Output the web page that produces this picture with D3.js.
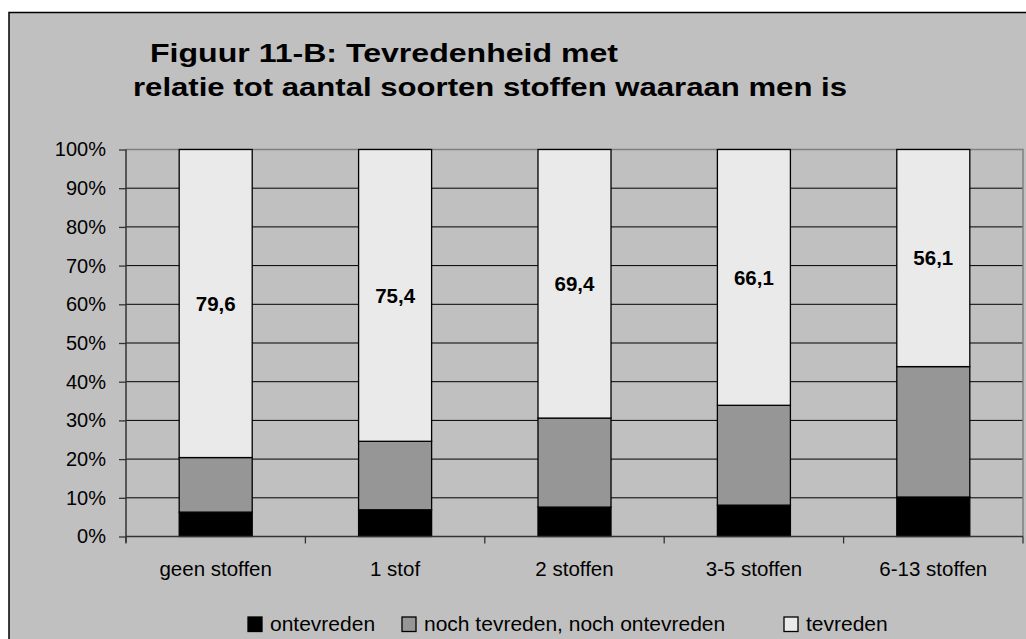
<!DOCTYPE html>
<html>
<head>
<meta charset="utf-8">
<script src="https://cdn.jsdelivr.net/npm/d3@7"></script>
<style>
  body { margin: 0; background: #fff; }
  text { font-family: Arial, "Liberation Sans", sans-serif; }
</style>
</head>
<body>
<script>
var categories = ['geen stoffen', '1 stof', '2 stoffen', '3-5 stoffen', '6-13 stoffen'];
var seriesNames = ['ontevreden', 'noch tevreden, noch ontevreden', 'tevreden'];
var ontevreden = [6.3, 6.9, 7.6, 8.1, 10.2];
var noch = [14.1, 17.7, 23.0, 25.8, 33.7];
var tevreden = [79.6, 75.4, 69.4, 66.1, 56.1];
var yTicks = [0, 10, 20, 30, 40, 50, 60, 70, 80, 90, 100];

var colors = ['#000000', '#969696', '#eaeaea'];

var W = 1026, H = 639;
var plot = { left: 126, right: 1023, top: 149.5, bottom: 536.5 };

var svg = d3.select('body').
append('svg').
attr('width', W).
attr('height', H);

// chart frame
svg.append('rect').
attr('x', 9).
attr('y', 12.5).
attr('width', W + 20).
attr('height', H + 20).
attr('fill', '#c0c0c0').
attr('stroke', '#000').
attr('stroke-width', 1.5);

// title
svg.append('text').
attr('x', 150).
attr('y', 62).
attr('font-size', 26).
attr('font-weight', 'bold').
attr('textLength', 468).
attr('lengthAdjust', 'spacingAndGlyphs').
text('Figuur 11-B: Tevredenheid met');

svg.append('text').
attr('x', 133).
attr('y', 96).
attr('font-size', 26).
attr('font-weight', 'bold').
attr('textLength', 714).
attr('lengthAdjust', 'spacingAndGlyphs').
text('relatie tot aantal soorten stoffen waaraan men is');

var x = d3.scaleBand().
domain(categories).
range([plot.left, plot.right]).
paddingInner(0.593).
paddingOuter(0.2965);

var y = d3.scaleLinear().
domain([0, 100]).
range([plot.bottom, plot.top]);

// gridlines
svg.selectAll('.grid').
data(yTicks.filter(function (d) {return d > 0 && d < 100;})).
enter().
append('line').
attr('x1', plot.left).
attr('x2', plot.right).
attr('y1', function (d) {return y(d);}).
attr('y2', function (d) {return y(d);}).
attr('stroke', '#000').
attr('stroke-width', 1);

// plot border top / right
svg.append('path').
attr('d', 'M' + plot.left + ',' + plot.top + 'H' + plot.right + 'V' + plot.bottom).
attr('fill', 'none').
attr('stroke', '#808080').
attr('stroke-width', 1.5);

// stacked data
var stackData = categories.map(function (c, i) {
  return { cat: c, ontevreden: ontevreden[i], noch: noch[i], tevreden: tevreden[i] };
});
var stack = d3.stack().keys(['ontevreden', 'noch', 'tevreden']);
var series = stack(stackData);

svg.selectAll('.serie').
data(series).
enter().
append('g').
attr('fill', function (d, i) {return colors[i];}).
selectAll('rect').
data(function (d) {return d;}).
enter().
append('rect').
attr('x', function (d) {return x(d.data.cat);}).
attr('width', x.bandwidth()).
attr('y', function (d) {return y(d[1]);}).
attr('height', function (d) {return y(d[0]) - y(d[1]);}).
attr('stroke', '#000').
attr('stroke-width', 1.3);

// data labels (tevreden)
svg.selectAll('.lbl').
data(series[2]).
enter().
append('text').
attr('x', function (d) {return x(d.data.cat) + x.bandwidth() / 2;}).
attr('y', function (d) {return y((d[0] + d[1]) / 2);}).
attr('dy', '0.36em').
attr('text-anchor', 'middle').
attr('font-size', 20.5).
attr('font-weight', 'bold').
text(function (d) {return String(d.data.tevreden).replace('.', ',');});

// y axis
var yAxis = d3.axisLeft(y).
tickValues(yTicks).
tickSize(7).
tickPadding(13).
tickFormat(function (d) {return d + '%';});

var gy = svg.append('g').
attr('transform', 'translate(' + plot.left + ',0)').
call(yAxis);
gy.select('.domain').attr('stroke', '#333').attr('stroke-width', 1.5).attr('d', 'M0,' + plot.top + 'V' + (plot.bottom + 6));
gy.selectAll('.tick line').attr('stroke', '#333').attr('stroke-width', 1.3);
gy.selectAll('.tick text').
attr('font-size', 20).
attr('fill', '#000').
style('font-family', 'Arial, "Liberation Sans", sans-serif');

// x axis
var gx = svg.append('g');
gx.append('line').
attr('x1', plot.left).
attr('x2', plot.right).
attr('y1', plot.bottom).
attr('y2', plot.bottom).
attr('stroke', '#333').
attr('stroke-width', 1.5);

var bounds = categories.map(function (c) {return x(c) - x.step() * x.paddingOuter();});
bounds.push(plot.right);
gx.selectAll('.xt').
data(bounds).
enter().
append('line').
attr('x1', function (d) {return d;}).
attr('x2', function (d) {return d;}).
attr('y1', plot.bottom).
attr('y2', plot.bottom + 7).
attr('stroke', '#333').
attr('stroke-width', 1.3);

gx.selectAll('.xl').
data(categories).
enter().
append('text').
attr('x', function (d) {return x(d) + x.bandwidth() / 2;}).
attr('y', 576).
attr('text-anchor', 'middle').
attr('font-size', 20.5).
text(function (d) {return d;});

// legend
var legendX = [248, 402, 784];
var legend = svg.selectAll('.legend').
data(seriesNames).
enter().
append('g').
attr('transform', function (d, i) {return 'translate(' + legendX[i] + ',617)';});

legend.append('rect').
attr('width', 14).
attr('height', 14.5).
attr('fill', function (d, i) {return colors[i];}).
attr('stroke', '#000').
attr('stroke-width', 1.3);

legend.append('text').
attr('x', 22).
attr('y', 14).
attr('font-size', 21).
text(function (d) {return d;});
</script>
</body>
</html>
